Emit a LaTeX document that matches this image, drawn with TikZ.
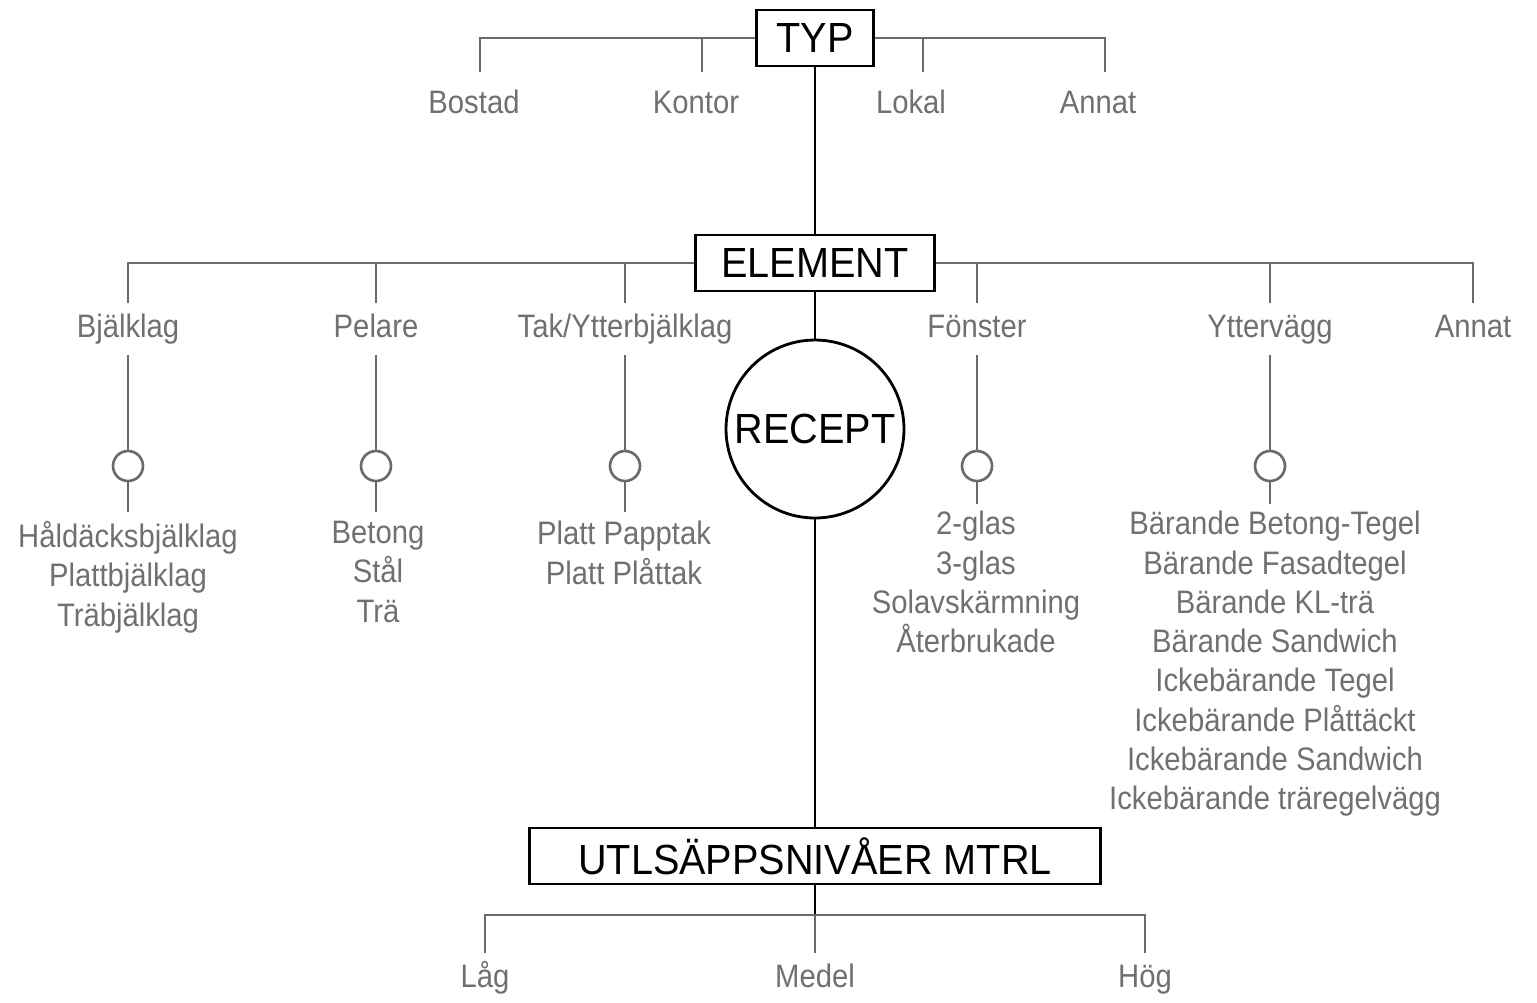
\documentclass[tikz,border=0pt]{standalone}
\usepackage{fontspec}
\newfontfamily\itemfont[FakeStretch=0.9]{Liberation Sans}
\newfontfamily\headfont[FakeStretch=0.94]{Liberation Sans}
\definecolor{linegray}{HTML}{6A6A6A}
\definecolor{textgray}{HTML}{707070}
\begin{document}
\begin{tikzpicture}[x=0.02cm,y=-0.02cm,
  head/.style={draw=black,line width=1.6pt,font=\headfont\fontsize{24}{28}\selectfont,
    minimum height=1.12cm,inner sep=0pt},
  headcirc/.style={circle,draw=black,line width=1.6pt,font=\headfont\fontsize{24}{28}\selectfont,
    minimum size=3.56cm,inner sep=0pt},
  leaf/.style={font=\itemfont\fontsize{18.5}{22.35}\selectfont,text=textgray,
    text height=13.5pt,text depth=4pt,inner sep=0pt,outer sep=6pt,anchor=base},
  leaflist/.style={font=\itemfont\fontsize{18.5}{22.35}\selectfont,text=textgray,
    align=center,inner sep=0pt,anchor=north},
  knob/.style={circle,draw=linegray,line width=1.5pt,minimum size=0.6cm,inner sep=0pt},
  branch/.style={draw=linegray,line width=1.6pt},
  spine/.style={draw=black,line width=1.6pt}]
  \useasboundingbox (0,0) rectangle (1537,1002);

  % main nodes
  \node[head,minimum width=2.34cm] (typ) at (815,38) {TYP};
  \node[head,minimum width=4.78cm] (element) at (815,263) {ELEMENT};
  \node[headcirc] (recept) at (815,429) {RECEPT};
  \node[head,minimum width=11.42cm] (utl) at (815,856) {UTLSÄPPSNIVÅER MTRL};
  \coordinate (j) at (815,915);

  \draw[spine] (typ) -- (element);
  \draw[spine] (element) -- (recept);
  \draw[spine] (recept) -- (utl);
  \draw[spine] (utl) -- (j);

  % typ
  \node[leaf] (bostad) at (474,113) {Bostad};
  \node[leaf] (kontor) at (696,113) {Kontor};
  \node[leaf] (lokal) at (911,113) {Lokal};
  \node[leaf] (annat) at (1098,113) {Annat};
  \coordinate (dbostad) at (480,72);
  \coordinate (dkontor) at (702,72);
  \coordinate (dlokal) at (923,72);
  \coordinate (dannat) at (1105,72);
  \draw[branch] (typ.west) -| (dbostad);
  \draw[branch] (typ.west -| dkontor) -- (dkontor);
  \draw[branch] (typ.east) -| (dannat);
  \draw[branch] (typ.east -| dlokal) -- (dlokal);

  % element
  \node[leaf] (bjalklag) at (128,337) {Bjälklag};
  \node[leaf] (pelare) at (376,337) {Pelare};
  \node[leaf] (tak) at (625,337) {Tak/Ytterbjälklag};
  \node[leaf] (fonster) at (977,337) {Fönster};
  \node[leaf] (yttervagg) at (1270,337) {Yttervägg};
  \node[leaf] (annat2) at (1473,337) {Annat};
  \draw[branch] (element.west) -| (bjalklag);
  \draw[branch] (element.west -| pelare) -- (pelare);
  \draw[branch] (element.west -| tak) -- (tak);
  \draw[branch] (element.east) -| (annat2);
  \draw[branch] (element.east -| fonster) -- (fonster);
  \draw[branch] (element.east -| yttervagg) -- (yttervagg);

  \node[knob] (k1) at (128,466) {};
  \node[knob] (k2) at (376,466) {};
  \node[knob] (k3) at (625,466) {};
  \node[knob] (k4) at (977,466) {};
  \node[knob] (k5) at (1270,466) {};
  \draw[branch] (bjalklag) -- (k1);
  \draw[branch] (pelare) -- (k2);
  \draw[branch] (tak) -- (k3);
  \draw[branch] (fonster) -- (k4);
  \draw[branch] (yttervagg) -- (k5);

  \node[leaflist] (bjlist) at (128,521) {Håldäcksbjälklag\\Plattbjälklag\\Träbjälklag};
  \node[leaflist] (pelist) at (378,521) {Betong\\Stål\\Trä};
  \node[leaflist] (taklist) at (624,521) {Platt Papptak\\Platt Plåttak};
  \node[leaflist] (folist) at (976,511) {2-glas\\3-glas\\Solavskärmning\\Återbrukade};
  \node[leaflist] (yvlist) at (1275,511) {Bärande Betong-Tegel\\Bärande Fasadtegel\\
    Bärande KL-trä\\Bärande Sandwich\\Ickebärande Tegel\\Ickebärande Plåttäckt\\
    Ickebärande Sandwich\\Ickebärande träregelvägg};
  \draw[branch,shorten >=5pt] (k1) -- (k1 |- bjlist.north);
  \draw[branch,shorten >=5pt] (k2) -- (k2 |- pelist.north);
  \draw[branch,shorten >=5pt] (k3) -- (k3 |- taklist.north);
  \draw[branch,shorten >=4pt] (k4) -- (k4 |- folist.north);
  \draw[branch,shorten >=4pt] (k5) -- (k5 |- yvlist.north);

  % utslapp
  \node[leaf] (lag) at (485,987) {Låg};
  \node[leaf] (medel) at (815,987) {Medel};
  \node[leaf] (hog) at (1145,987) {Hög};
  \draw[branch] (j) -| (lag);
  \draw[branch] (j) -| (hog);
  \draw[branch] (j) -- (medel);
\end{tikzpicture}
\end{document}
